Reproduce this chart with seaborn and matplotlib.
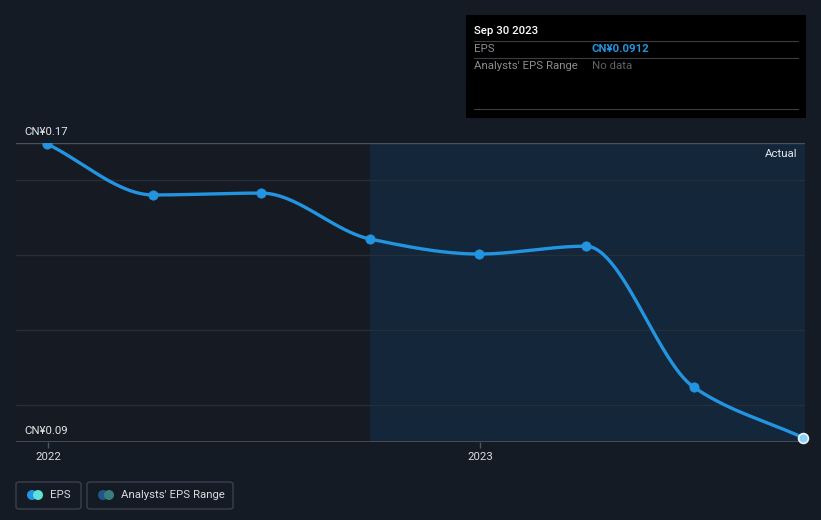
import numpy as np
import pandas as pd
import matplotlib
matplotlib.use("Agg")
import matplotlib.pyplot as plt
import matplotlib.dates as mdates
from matplotlib.patches import FancyBboxPatch, Ellipse, Rectangle
import seaborn as sns

# ---- data ----
dates = ["2021-12-31", "2022-03-31", "2022-06-30", "2022-09-30",
         "2022-12-31", "2023-03-31", "2023-06-30", "2023-09-30"]
eps = [0.1698, 0.1561, 0.1566, 0.1443, 0.1403, 0.1424, 0.1047, 0.0912]
ytick_vals = [0.09, 0.17]
ytick_labels = ["CN¥0.09", "CN¥0.17"]
xtick_dates = ["2022-01-01", "2023-01-01"]
xtick_labels = ["2022", "2023"]

df = pd.DataFrame({"date": pd.to_datetime(dates), "eps": eps})

sns.set_theme(style="dark")
plt.rcParams["font.family"] = ["Roboto", "DejaVu Sans"]

BG = "#151b25"
LINE = "#2394df"
FS = 8.2
W, H = 821, 520

fig = plt.figure(figsize=(8.21, 5.2), dpi=100, facecolor=BG)
ax = fig.add_axes([16/W, (H-442)/H, (805-16)/W, (442-143)/H])
ax.set_facecolor(BG)

xmin = pd.Timestamp("2021-12-05")
xmax = pd.Timestamp("2023-10-02")
ax.set_xlim(xmin, xmax)
ax.set_ylim(0.09, 0.17)

# shaded regions
split = pd.Timestamp("2022-09-30")
ax.axvspan(xmin, split, color="#161a22", zorder=0, lw=0)
ax.axvspan(split, xmax, color="#13263a", zorder=0, lw=0)

# gridlines
for v in [0.10, 0.12, 0.14, 0.16]:
    ax.axhline(v, color="#252e3a", lw=1.0, zorder=1)
ax.axhline(0.17, color="#4b515b", lw=1.0, zorder=1)
ax.axhline(0.09, color="#4f545d", lw=1.2, zorder=1)


# smooth monotone cubic curve for drawing the line
def pchip(x, y, xs):
    x = np.asarray(x, float); y = np.asarray(y, float)
    h = np.diff(x); d = np.diff(y) / h
    n = len(x)
    m = np.zeros(n)
    for i in range(1, n - 1):
        if d[i-1] * d[i] <= 0:
            m[i] = 0
        else:
            w1 = 2*h[i] + h[i-1]; w2 = h[i] + 2*h[i-1]
            m[i] = (w1 + w2) / (w1/d[i-1] + w2/d[i])
    m[0] = d[0]; m[-1] = d[-1]
    out = np.empty_like(xs, dtype=float)
    for j, xv in enumerate(xs):
        k = min(max(np.searchsorted(x, xv) - 1, 0), n - 2)
        t = (xv - x[k]) / h[k]
        h00 = 2*t**3 - 3*t**2 + 1; h10 = t**3 - 2*t**2 + t
        h01 = -2*t**3 + 3*t**2; h11 = t**3 - t**2
        out[j] = h00*y[k] + h10*h[k]*m[k] + h01*y[k+1] + h11*h[k]*m[k+1]
    return out

xnum = mdates.date2num(df["date"])
xs = np.linspace(xnum[0], xnum[-1], 400)
ys = pchip(xnum, df["eps"].values, xs)
smooth = pd.DataFrame({"date": mdates.num2date(xs), "eps": ys})
sns.lineplot(data=smooth, x="date", y="eps", ax=ax, color=LINE, lw=2.4, zorder=3)
sns.scatterplot(data=df.iloc[:-1], x="date", y="eps", ax=ax, color=LINE, s=45,
                edgecolor=LINE, zorder=4)
sns.scatterplot(data=df.iloc[-1:], x="date", y="eps", ax=ax, color="#8fd0f4", s=50,
                edgecolor="#e8f6ff", linewidth=1.2, zorder=5, clip_on=False)

ax.set_xlabel(""); ax.set_ylabel("")
for s in ax.spines.values():
    s.set_visible(False)
ax.set_yticks([])
ax.set_xticks(pd.to_datetime(xtick_dates))
ax.set_xticklabels(xtick_labels, color="#d8dadd", fontsize=FS)
ax.tick_params(axis="x", length=4, color="#4f545d", width=1, pad=3, bottom=True)
ax.grid(False)

# y labels drawn inside
for v, lab in zip(ytick_vals, ytick_labels):
    ax.annotate(lab, xy=(0, v), xycoords=("axes fraction", "data"),
                xytext=(8, 6), textcoords="offset pixels", color="#e4e6e8",
                fontsize=FS, va="bottom", ha="left")

ax.text(797/W, 1-154/H, "Actual", transform=fig.transFigure, color="#e4e6e8",
        fontsize=FS, ha="right", va="center")

# tooltip
fig.patches.append(Rectangle((466/W, 1-118/H), 340/W, 103/H,
                             transform=fig.transFigure, facecolor="#000000",
                             edgecolor="none", zorder=10))
for yy in [41, 58, 109]:
    fig.add_artist(plt.Line2D([474/W, 798/W], [1-yy/H, 1-yy/H],
                              transform=fig.transFigure, color="#3a3d42", lw=0.8, zorder=11))
fig.text(474/W, 1-31/H, "Sep 30 2023", color="#ffffff", fontsize=FS,
         fontweight="medium", va="center", zorder=12)
fig.text(474/W, 1-49/H, "EPS", color="#8a8d92", fontsize=FS, va="center", zorder=12)
fig.text(592/W, 1-49/H, "CN¥0.0912", color="#2394df", fontsize=FS,
         fontweight="bold", va="center", zorder=12)
fig.text(474/W, 1-66/H, "Analysts' EPS Range", color="#8a8d92", fontsize=FS,
         va="center", zorder=12)
fig.text(592/W, 1-66/H, "No data", color="#5f6266", fontsize=FS, va="center", zorder=12)

# legend
def legbox(x0, x1, c1, c2, label):
    fig.patches.append(FancyBboxPatch((x0/W, 1-509/H), (x1-x0)/W, 27/H,
                                      boxstyle="round,pad=0,rounding_size=0.004",
                                      transform=fig.transFigure, facecolor="none",
                                      edgecolor="#3b414c", lw=1.0))
    cy = 1-495/H
    fig.patches.append(Ellipse(((x0+16)/W, cy), 10/W, 10/H, transform=fig.transFigure,
                               facecolor=c1, edgecolor="none"))
    fig.patches.append(Ellipse(((x0+22)/W, cy), 10/W, 10/H, transform=fig.transFigure,
                               facecolor=c2, edgecolor="none"))
    fig.text((x0+34)/W, cy, label, color="#d8dadd", fontsize=FS, va="center")

legbox(16, 81, "#2394df", "#5fe0d8", "EPS")
legbox(87, 233, "#1f5788", "#3a7d7e", "Analysts' EPS Range")

fig.savefig("out.png", dpi=100, facecolor=BG)
